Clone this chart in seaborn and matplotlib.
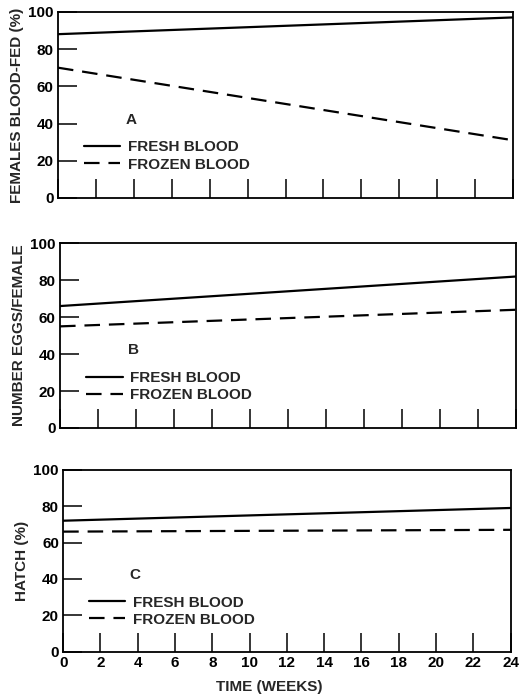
import numpy as np
import pandas as pd
import matplotlib
matplotlib.use("Agg")
import matplotlib.pyplot as plt
import seaborn as sns

# values (start and end of each fitted line)
weeks = [0, 24]
fed_fresh = [88, 97]
fed_frozen = [70, 31]
eggs_fresh = [66, 82]
eggs_frozen = [55, 64]
hatch_fresh = [72, 79]
hatch_frozen = [66, 67]

panels = [
    ("A", "FEMALES BLOOD-FED (%)", fed_fresh, fed_frozen),
    ("B", "NUMBER EGGS/FEMALE", eggs_fresh, eggs_frozen),
    ("C", "HATCH (%)", hatch_fresh, hatch_frozen),
]
series_names = ["FRESH BLOOD", "FROZEN BLOOD"]
x_ticks = list(range(0, 25, 2))
y_ticks = [0, 20, 40, 60, 80, 100]

sns.set_theme(style="ticks")
plt.rcParams["font.family"] = ["Liberation Sans", "DejaVu Sans"]
plt.rcParams["font.weight"] = "bold"

fig = plt.figure(figsize=(5.22, 6.97), dpi=100)
positions = [
    [0.111, 0.716, 0.872, 0.267],
    [0.115, 0.386, 0.874, 0.265],
    [0.121, 0.065, 0.857, 0.261],
]

for (letter, ylab, fresh, frozen), pos in zip(panels, positions):
    ax = fig.add_axes(pos)
    df = pd.DataFrame({
        "week": weeks * 2,
        "value": fresh + frozen,
        "series": [series_names[0]] * 2 + [series_names[1]] * 2,
    })
    sns.lineplot(data=df, x="week", y="value", hue="series", style="series",
                 palette=["black", "black"],
                 dashes={series_names[0]: "", series_names[1]: (7, 4)},
                 linewidth=1.6, ax=ax)
    ax.set_xlim(0, 24)
    ax.set_ylim(0, 100)
    ax.set_yticks(y_ticks)
    ax.set_xticks(x_ticks)
    ax.tick_params(direction="in", length=14, width=1.1, labelsize=11,
                   colors="black", pad=3)
    for s in ax.spines.values():
        s.set_linewidth(1.3)
        s.set_color("black")
    ax.set_ylabel(ylab, fontsize=11, fontweight="bold", labelpad=3)
    if letter == "C":
        ax.set_xlabel("TIME (WEEKS)", fontsize=11, fontweight="bold")
        ax.xaxis.set_label_coords(0.46, -0.155)
    else:
        ax.set_xlabel("")
        ax.set_xticklabels([])
    for lab in ax.get_xticklabels() + ax.get_yticklabels():
        lab.set_fontweight("bold")
    ax.text(0.148, 0.42, letter, transform=ax.transAxes, fontsize=11,
            fontweight="bold", va="center", ha="left")
    leg = ax.legend(loc="upper left", bbox_to_anchor=(0.04, 0.35),
                    frameon=False, fontsize=11, handlelength=2.4,
                    handletextpad=0.5, labelspacing=0.2, borderpad=0)
    for t in leg.get_texts():
        t.set_fontweight("bold")

fig.savefig("out.png", dpi=100)
